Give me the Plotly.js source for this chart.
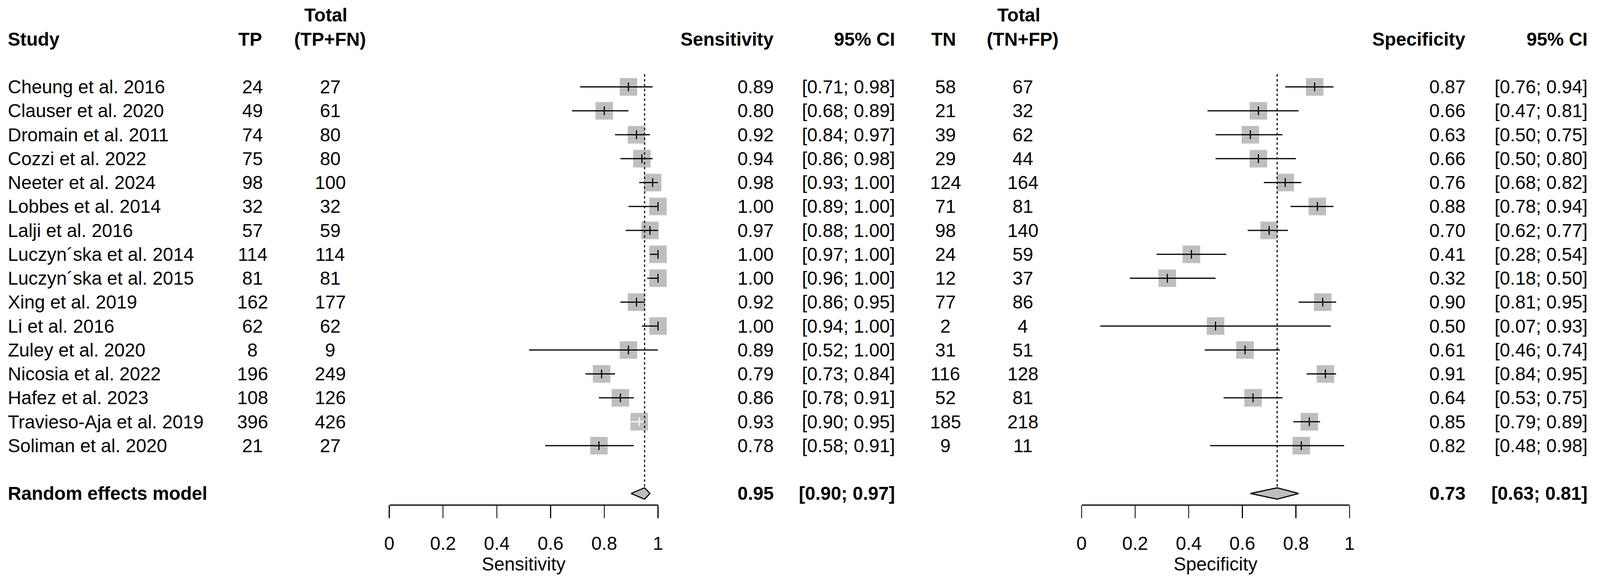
<!DOCTYPE html>
<html>
<head>
<meta charset="utf-8">
<script src="https://cdn.plot.ly/plotly-3.0.1.min.js"></script>
<style>
  html, body { margin: 0; padding: 0; background: #ffffff; overflow: hidden; }
  #chart { width: 100vw; height: 100vh; }
</style>
</head>
<body>
<div id="chart"></div>
<script>
// ---------------- data ----------------
const studies = [
  "Cheung et al. 2016", "Clauser et al. 2020", "Dromain et al. 2011", "Cozzi et al. 2022",
  "Neeter et al. 2024", "Lobbes et al. 2014", "Lalji et al. 2016", "Luczyn\u00B4ska et al. 2014",
  "Luczyn\u00B4ska et al. 2015", "Xing et al. 2019", "Li et al. 2016", "Zuley et al. 2020",
  "Nicosia et al. 2022", "Hafez et al. 2023", "Travieso-Aja et al. 2019", "Soliman et al. 2020"
];
const tp      = [24, 49, 74, 75, 98, 32, 57, 114, 81, 162, 62, 8, 196, 108, 396, 21];
const totPos  = [27, 61, 80, 80, 100, 32, 59, 114, 81, 177, 62, 9, 249, 126, 426, 27];
const sens    = [0.89, 0.80, 0.92, 0.94, 0.98, 1.00, 0.97, 1.00, 1.00, 0.92, 1.00, 0.89, 0.79, 0.86, 0.93, 0.78];
const sensLo  = [0.71, 0.68, 0.84, 0.86, 0.93, 0.89, 0.88, 0.97, 0.96, 0.86, 0.94, 0.52, 0.73, 0.78, 0.90, 0.58];
const sensHi  = [0.98, 0.89, 0.97, 0.98, 1.00, 1.00, 1.00, 1.00, 1.00, 0.95, 1.00, 1.00, 0.84, 0.91, 0.95, 0.91];
const tn      = [58, 21, 39, 29, 124, 71, 98, 24, 12, 77, 2, 31, 116, 52, 185, 9];
const totNeg  = [67, 32, 62, 44, 164, 81, 140, 59, 37, 86, 4, 51, 128, 81, 218, 11];
const spec    = [0.87, 0.66, 0.63, 0.66, 0.76, 0.88, 0.70, 0.41, 0.32, 0.90, 0.50, 0.61, 0.91, 0.64, 0.85, 0.82];
const specLo  = [0.76, 0.47, 0.50, 0.50, 0.68, 0.78, 0.62, 0.28, 0.18, 0.81, 0.07, 0.46, 0.84, 0.53, 0.79, 0.48];
const specHi  = [0.94, 0.81, 0.75, 0.80, 0.82, 0.94, 0.77, 0.54, 0.50, 0.95, 0.93, 0.74, 0.95, 0.75, 0.89, 0.98];
const pooledLabel = "Random effects model";
const pooledSens = [0.95, 0.90, 0.97];   // estimate, lower, upper
const pooledSpec = [0.73, 0.63, 0.81];
const axisTicks = [0, 0.2, 0.4, 0.6, 0.8, 1];
const axisTickText = ["0", "0.2", "0.4", "0.6", "0.8", "1"];

// ---------------- layout constants (reference pixels, stretched to the viewport) ----------------
const W = 4299, H = 1493;
const VW = window.innerWidth || W, VH = window.innerHeight || H;
const SX = VW / W, SY = VH / H, S = Math.min(SX, SY);
const FONT = "Liberation Sans, Arial, Helvetica, sans-serif";
const FS = 50 * S;
const GRAY = "#BEBEBE";
const rowTop = 222.5, rowStep = 61.25;        // pixel centre of first row, row spacing
const nStudy = studies.length;
const pooledRow = nStudy + 1;
const px = v => v / W;
const diamondHalf = 14.5 / rowStep;
const insideTol = 0.03;

const xSensDom = [px(1046), px(1768)];
const xSpecDom = [px(2906), px(3626)];
const rows = studies.map((s, i) => i);

// ---------------- traces ----------------
function forestTraces(est, lo, hi, exactEst, xa, pooled) {
  const out = [];
  const inside = rows.map(i => lo[i] > exactEst[i] - insideTol && hi[i] < exactEst[i] + insideTol);
  out.push({
    type: "scatter", mode: "markers", xaxis: xa, yaxis: "y", cliponaxis: false,
    x: est, y: rows, hoverinfo: "skip", showlegend: false,
    marker: { symbol: "square", size: 47 * S, color: GRAY, line: { width: 0 } }
  });
  [false, true].forEach(white => {
    const xs = [], ys = [];
    rows.forEach(i => { if (inside[i] === white) { xs.push(lo[i], hi[i], null); ys.push(i, i, null); } });
    out.push({
      type: "scatter", mode: "lines", xaxis: xa, yaxis: "y", cliponaxis: false,
      x: xs, y: ys, hoverinfo: "skip", showlegend: false,
      line: { color: white ? "#FFFFFF" : "#000000", width: 3 * S }
    });
  });
  out.push({
    type: "scatter", mode: "markers", xaxis: xa, yaxis: "y", cliponaxis: false,
    x: est, y: rows, hoverinfo: "skip", showlegend: false,
    marker: { symbol: "line-ns-open", size: 16 * SY,
      color: rows.map(i => inside[i] ? "#FFFFFF" : "#000000"),
      line: { width: 3 * S } }
  });
  out.push({
    type: "scatter", mode: "lines", xaxis: xa, yaxis: "y", cliponaxis: false,
    x: [pooled[0], pooled[0]], y: [-0.53, pooledRow - diamondHalf],
    hoverinfo: "skip", showlegend: false,
    line: { color: "#000000", width: 3 * S, dash: (6 * SY).toFixed(2) + "px," + (6.5 * SY).toFixed(2) + "px" }
  });
  out.push({
    type: "scatter", mode: "lines", xaxis: xa, yaxis: "y", cliponaxis: false,
    x: [pooled[1], pooled[0], pooled[2], pooled[0], pooled[1]],
    y: [pooledRow, pooledRow - diamondHalf, pooledRow, pooledRow + diamondHalf, pooledRow],
    fill: "toself", fillcolor: GRAY, hoverinfo: "skip", showlegend: false,
    line: { color: "#000000", width: 3 * S }
  });
  return out;
}

const sensExact = rows.map(i => tp[i] / totPos[i]);
const specExact = rows.map(i => tn[i] / totNeg[i]);
const data = [].concat(
  forestTraces(sens, sensLo, sensHi, sensExact, "x", pooledSens),
  forestTraces(spec, specLo, specHi, specExact, "x2", pooledSpec)
);

// ---------------- text columns ----------------
const ann = [];
function txt(text, xPix, row, anchor, bold) {
  ann.push({
    text: bold ? "<b>" + text + "</b>" : text,
    xref: "paper", yref: "y", x: px(xPix), y: row,
    xanchor: anchor, yanchor: "middle", showarrow: false, borderpad: 0,
    font: { family: FONT, size: FS, color: "#000000" }
  });
}
const ci = (l, h) => "[" + l.toFixed(2) + "; " + h.toFixed(2) + "]";

txt("Study", 20, -2, "left", true);
txt("TP", 672, -2, "center", true);
txt("Total", 875, -3, "center", true);
txt("(TP+FN)", 887, -2, "center", true);
txt("Sensitivity", 2080, -2, "right", true);
txt("95% CI", 2406, -2, "right", true);
txt("TN", 2536, -2, "center", true);
txt("Total", 2737, -3, "center", true);
txt("(TN+FP)", 2748, -2, "center", true);
txt("Specificity", 3939, -2, "right", true);
txt("95% CI", 4266, -2, "right", true);

rows.forEach(i => {
  txt(studies[i], 20, i, "left", false);
  txt(String(tp[i]), 679, i, "center", false);
  txt(String(totPos[i]), 887, i, "center", false);
  txt(sens[i].toFixed(2), 2080, i, "right", false);
  txt(ci(sensLo[i], sensHi[i]), 2406, i, "right", false);
  txt(String(tn[i]), 2540, i, "center", false);
  txt(String(totNeg[i]), 2748, i, "center", false);
  txt(spec[i].toFixed(2), 3939, i, "right", false);
  txt(ci(specLo[i], specHi[i]), 4266, i, "right", false);
});

txt(pooledLabel, 20, pooledRow, "left", true);
txt(pooledSens[0].toFixed(2), 2080, pooledRow, "right", true);
txt(ci(pooledSens[1], pooledSens[2]), 2406, pooledRow, "right", true);
txt(pooledSpec[0].toFixed(2), 3939, pooledRow, "right", true);
txt(ci(pooledSpec[1], pooledSpec[2]), 4266, pooledRow, "right", true);

// ---------------- axes ----------------
const axisPos = 1 - 1293 / H;
function xAxis(domain, title) {
  return {
    domain: domain, range: [0, 1], anchor: "free", position: axisPos, side: "bottom",
    showline: true, linewidth: 3 * S, linecolor: "#000000",
    ticks: "outside", ticklen: 32 * SY, tickwidth: 2.5 * S, tickcolor: "#000000",
    tickmode: "array", tickvals: axisTicks, ticktext: axisTickText,
    tickfont: { family: FONT, size: FS, color: "#000000" },
    ticklabelstandoff: 24 * SY,
    showgrid: false, zeroline: false, fixedrange: true,
    title: { text: title, font: { family: FONT, size: FS, color: "#000000" }, standoff: 6 * SY }
  };
}

const yTopRow = -rowTop / rowStep;
const yBotRow = (H - rowTop) / rowStep;

const layout = {
  width: VW, height: VH,
  margin: { l: 0, r: 0, t: 0, b: 0, pad: 0 },
  paper_bgcolor: "#FFFFFF", plot_bgcolor: "rgba(0,0,0,0)",
  showlegend: false,
  font: { family: FONT, size: FS, color: "#000000" },
  xaxis: xAxis(xSensDom, "Sensitivity"),
  xaxis2: xAxis(xSpecDom, "Specificity"),
  yaxis: { domain: [0, 1], range: [yBotRow, yTopRow], visible: false, fixedrange: true,
           showgrid: false, zeroline: false, anchor: "x" },
  annotations: ann
};

Plotly.newPlot("chart", data, layout, { staticPlot: true, displayModeBar: false });
</script>
</body>
</html>
